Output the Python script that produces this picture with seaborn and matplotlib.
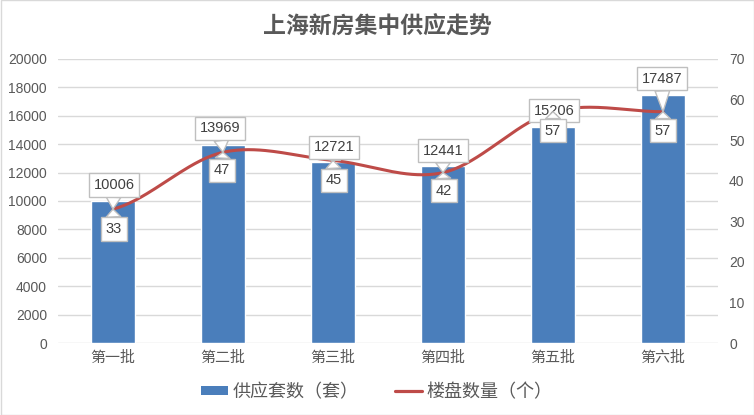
import numpy as np
import pandas as pd
import matplotlib
matplotlib.use("Agg")
import matplotlib.pyplot as plt
import seaborn as sns
from matplotlib.patches import Patch, Rectangle
from matplotlib.lines import Line2D

# ---- data ----
title = "上海新房集中供应走势"
categories = ["第一批", "第二批", "第三批", "第四批", "第五批", "第六批"]
supply_units = [10006, 13969, 12721, 12441, 15206, 17487]
project_counts = [33, 47, 45, 42, 57, 57]
bar_name = "供应套数（套）"
line_name = "楼盘数量（个）"
left_ticks = list(range(0, 20001, 2000))
right_ticks = list(range(0, 71, 10))

# ---- style ----
sns.set_theme(style="white")
plt.rcParams['font.family'] = ['Liberation Sans', 'Noto Sans CJK SC', 'DejaVu Sans']
BAR_C = "#4a7ebb"
LINE_C = "#be4b48"
GRID_C = "#d9d9d9"
TXT_C = "#595959"
LBL_C = "#404040"

fig = plt.figure(figsize=(7.54, 4.15), dpi=100)
ax = fig.add_axes([58/754, 72/415, 660/754, 284/415])
ax2 = ax.twinx()

df = pd.DataFrame({"cat": categories, "supply": supply_units})
sns.barplot(data=df, x="cat", y="supply", color=BAR_C, width=0.4,
            saturation=1, ax=ax, zorder=2)

# smooth curve (cubic Hermite through the data points, like Excel's smoothed line)
y = np.array(project_counts, dtype=float)
n = len(y)
xs_all, ys_all = [], []
for i in range(n - 1):
    p0 = y[i]
    p1 = y[i + 1]
    m0 = (y[i + 1] - y[i - 1]) / 2 if i > 0 else (y[i + 1] - y[i]) / 2
    m1 = (y[i + 2] - y[i]) / 2 if i + 2 < n else 0.0
    t = np.linspace(0, 1, 40)
    h00 = 2*t**3 - 3*t**2 + 1
    h10 = t**3 - 2*t**2 + t
    h01 = -2*t**3 + 3*t**2
    h11 = t**3 - t**2
    xs_all.append(i + t)
    ys_all.append(h00*p0 + h10*m0 + h01*p1 + h11*m1)
curve = pd.DataFrame({"x": np.concatenate(xs_all), "y": np.concatenate(ys_all)})
sns.lineplot(data=curve, x="x", y="y", sort=False, color=LINE_C, linewidth=2.2,
             ax=ax2, zorder=3)

ax.set_xlim(-0.5, len(categories) - 0.5)
ax.set_ylim(0, 20000)
ax2.set_ylim(0, 70)
ax.set_yticks(left_ticks)
ax2.set_yticks(right_ticks)
ax.set_xlabel("")
ax.set_ylabel("")
ax2.set_xlabel("")
ax2.set_ylabel("")
ax.grid(axis="y", color=GRID_C, linewidth=1)
ax.set_axisbelow(True)
for a in (ax, ax2):
    for s in a.spines.values():
        s.set_visible(False)
    a.tick_params(length=0, colors=TXT_C, labelsize=10)
ax.tick_params(axis="y", pad=8)
ax2.tick_params(axis="y", pad=8)
ax.tick_params(axis="x", pad=6)
for lab in ax.get_xticklabels():
    lab.set_fontfamily(['Noto Sans CJK SC', 'DejaVu Sans'])
    lab.set_fontsize(10.8)

# ---- data labels (callouts) ----
bar_off = [(1, 24), (-3, 24), (1, 13), (0, 22), (1, 1), (-1, 33)]
line_off = [(1, -20), (-1, -18), (1, -20), (1, -18), (0, -19), (0, -19)]
box = dict(boxstyle="square,pad=0.32", fc="white", ec="#bfbfbf", lw=1)
arrow = dict(arrowstyle="wedge,tail_width=1.0,shrink_factor=0.5", fc="white",
             ec="#bfbfbf", lw=1, shrinkA=0, shrinkB=0)
for i, (v, c) in enumerate(zip(supply_units, project_counts)):
    ax2.annotate(f"{v}", xy=(i, c), xytext=bar_off[i], textcoords="offset pixels",
                 ha="center", va="center", fontsize=10.5, color=LBL_C,
                 bbox=box, arrowprops=arrow, zorder=5)
    ax2.annotate(f"{c}", xy=(i, c), xytext=line_off[i], textcoords="offset pixels",
                 ha="center", va="center", fontsize=10.5, color=LBL_C,
                 bbox=box, arrowprops=arrow, zorder=5)

# ---- title ----
fig.text(0.5, 1 - 27/415, title, ha="center", va="center", fontsize=16.5,
         fontweight="bold", color=TXT_C, family=['Noto Sans CJK SC', 'DejaVu Sans'])

# ---- legend ----
handles = [Patch(facecolor=BAR_C, edgecolor="none"),
           Line2D([0], [0], color=LINE_C, linewidth=2.3)]
leg = fig.legend(handles, [bar_name, line_name], loc="center",
                 bbox_to_anchor=(0.5, 23/415), ncol=2, frameon=False,
                 fontsize=13, handlelength=1.5, handleheight=0.45,
                 handletextpad=0.25, columnspacing=2.0)
for t in leg.get_texts():
    t.set_color(TXT_C)
    t.set_fontfamily(['Noto Sans CJK SC', 'DejaVu Sans'])

# figure border
fig.patches.append(Rectangle((0.5/754, 0.5/415), 1 - 1/754, 1 - 1/415,
                             transform=fig.transFigure, fill=False,
                             ec="#d9d9d9", lw=1))

fig.savefig("out.png", dpi=100)
